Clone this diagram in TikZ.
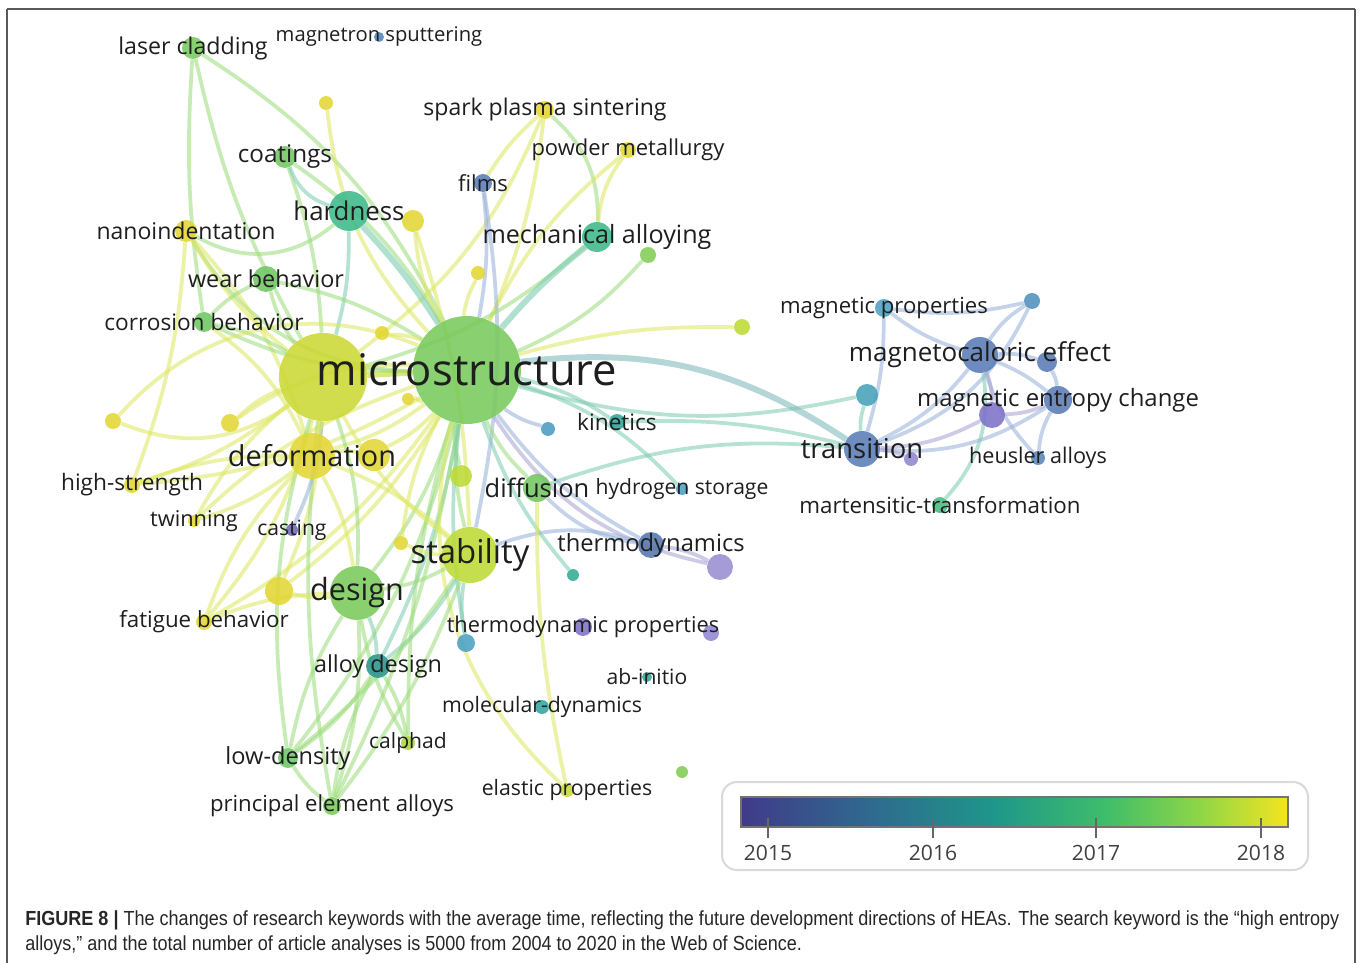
\documentclass[tikz,border=0pt]{standalone}
\usepackage{fontspec}
\newfontfamily\kwfont{Open Sans}
\newfontfamily\capfont[FakeStretch=0.885]{Liberation Sans}
\usetikzlibrary{positioning}

% colours of the overlay (viridis-like)
\definecolor{txt}{HTML}{1E1E1E}
\definecolor{yel}{HTML}{E3D634}
\definecolor{ygr}{HTML}{BCDA36}
\definecolor{grn}{HTML}{78C95C}
\definecolor{tgr}{HTML}{3DB88A}
\definecolor{teal}{HTML}{2FA59A}
\definecolor{tblu}{HTML}{4AA0C2}
\definecolor{blu}{HTML}{5A7BB6}
\definecolor{pur}{HTML}{7D71C6}
\definecolor{eg}{HTML}{9EDC7E}
\definecolor{ey}{HTML}{DDE764}
\definecolor{et}{HTML}{80CDB2}
\definecolor{eb}{HTML}{9BB3DA}
\definecolor{ep}{HTML}{AAA5D4}
\definecolor{etb}{HTML}{86BDBD}
\definecolor{vir0}{HTML}{403B8A}
\definecolor{vir1}{HTML}{2F6A8E}
\definecolor{vir2}{HTML}{1F968A}
\definecolor{vir3}{HTML}{3DBC6B}
\definecolor{vir4}{HTML}{8FD646}
\definecolor{vir5}{HTML}{F5E420}
\pgfdeclarehorizontalshading{viridis}{100bp}{color(0bp)=(vir0); color(25bp)=(vir0);
  color(37bp)=(vir1); color(48bp)=(vir2); color(58bp)=(vir3); color(67bp)=(vir4);
  color(75bp)=(vir5); color(100bp)=(vir5)}
\pgfdeclarelayer{bg}
\pgfsetlayers{bg,main}

\begin{document}
\begin{tikzpicture}[x=0.02cm,y=-0.02cm,
   dot/.style={circle,inner sep=0pt,minimum size=#1*0.04cm,fill opacity=0.88},
   lbl/.style={font=\kwfont\fontsize{#1}{#1}\selectfont,text=txt,inner sep=0pt,text opacity=1},
   link/.style={draw=#1,line width=0.075cm,draw opacity=0.58},
   thick link/.style={draw=#1,line width=0.12cm,draw opacity=0.62},
   yrlbl/.style={font=\kwfont\fontsize{12}{12}\selectfont,text=black!75},
   caption/.style={font=\capfont\fontsize{11.6}{13}\selectfont,text=black!85,anchor=west,inner sep=0pt}]

\useasboundingbox (0,0) rectangle (1360,963);
\draw[black!65,line width=0.035cm] (7,9) -- (7,963) (1355,9) -- (1355,963) (7,9) -- (1355,9);

% items without a printed label
\node[dot=44,fill=ygr!60!yel] (hea) at (323,377) {};
\node[dot=7,fill=yel]  (ydotA) at (326,103) {};
\node[dot=11,fill=yel] (ydotB) at (413,221) {};
\node[dot=7,fill=yel]  (ydotC) at (478,273) {};
\node[dot=7,fill=yel]  (ydotD) at (382,333) {};
\node[dot=6,fill=yel]  (ydotE) at (408,399) {};
\node[dot=8,fill=yel]  (ydotF) at (113,421) {};
\node[dot=9,fill=yel]  (ydotG) at (230,423) {};
\node[dot=16,fill=yel] (ydotH) at (374,455) {};
\node[dot=7,fill=yel]  (ydotI) at (401,543) {};
\node[dot=14,fill=yel] (ydotJ) at (279,591) {};
\node[dot=11,fill=ygr] (ygdot) at (461,476) {};
\node[dot=8,fill=ygr]  (ygdotB) at (742,327) {};
\node[dot=8,fill=grn!85!ygr] (gdotA) at (648,255) {};
\node[dot=6,fill=grn!85!ygr] (gdotB) at (682,772) {};
\node[dot=7,fill=tblu!85!blu] (bdotA) at (548,429) {};
\node[dot=6,fill=teal!70!tgr] (tdotA) at (573,575) {};
\node[dot=9,fill=tblu] (tdotB) at (466,643) {};
\node[dot=11,fill=tblu!80!teal] (tdotC) at (867,395) {};
\node[dot=13,fill=pur!80!white] (pdotA) at (720,567) {};
\node[dot=8,fill=pur!85!white] (pdotB) at (711,633) {};
\node[dot=8,fill=tblu!60!blu] (bdotB) at (1032,301) {};
\node[dot=10,fill=blu] (bdotC) at (1047,362) {};
\node[dot=13,fill=pur] (pdotC) at (992,415) {};
\node[dot=7,fill=pur!85!white] (pdotD) at (911,459) {};

% keywords
\node[dot=11,fill=grn,label={[lbl=13.2]center:laser cladding}] (laser) at (193,48) {};
\node[dot=5,fill=blu!80!tblu,label={[lbl=11.5]center:magnetron sputtering}] (sput) at (379,37) {};
\node[dot=9,fill=yel,label={[lbl=13.1]center:spark plasma sintering}] (spark) at (545,110) {};
\node[dot=8,fill=yel,label={[lbl=12.5]center:powder metallurgy}] (powder) at (628,150) {};
\node[dot=11,fill=grn!90!tgr,label={[lbl=13.8]center:coatings}] (coat) at (285,157) {};
\node[dot=9,fill=blu,label={[lbl=12.6]center:films}] (films) at (483,183) {};
\node[dot=20,fill=tgr,label={[lbl=14.7]center:hardness}] (hard) at (349,211) {};
\node[dot=11,fill=yel,label={[lbl=13.1]center:nanoindentation}] (nano) at (186,231) {};
\node[dot=15,fill=tgr,label={[lbl=14.3]center:mechanical alloying}] (mech) at (597,237) {};
\node[dot=13,fill=grn!85!tgr,label={[lbl=13.3]center:wear behavior}] (wear) at (266,279) {};
\node[dot=10,fill=grn!85!tgr,label={[lbl=12.9]center:corrosion behavior}] (corr) at (204,322) {};
\node[dot=54,fill=grn,label={[lbl=24.8]center:microstructure}] (micro) at (467,370) {};
\node[dot=8,fill=teal,label={[lbl=12.9]center:kinetics}] (kin) at (617,422) {};
\node[dot=23,fill=yel,label={[lbl=16.4]center:deformation}] (deform) at (312,456) {};
\node[dot=8,fill=yel,label={[lbl=12.9]center:high-strength}] (highs) at (132,485) {};
\node[dot=14,fill=grn!90!tgr,label={[lbl=14.5]center:diffusion}] (diff) at (537,488) {};
\node[dot=6,fill=tblu,label={[lbl=12]center:hydrogen storage}] (hydro) at (682,489) {};
\node[dot=6,fill=yel,label={[lbl=12.4]center:twinning}] (twin) at (194,521) {};
\node[dot=6,fill=pur!90!black,label={[lbl=12]center:casting}] (cast) at (292,530) {};
\node[dot=28,fill=ygr,label={[lbl=18.7]center:stability}] (stab) at (470,555) {};
\node[dot=13,fill=blu!95!black,label={[lbl=13.5]center:thermodynamics}] (thermo) at (651,545) {};
\node[dot=27,fill=grn!95!ygr,label={[lbl=17.4]center:design}] (design) at (357,593) {};
\node[dot=8,fill=yel,label={[lbl=12.7]center:fatigue behavior}] (fatig) at (204,622) {};
\node[dot=9,fill=pur,label={[lbl=12.4]center:thermodynamic properties}] (tprop) at (583,627) {};
\node[dot=12,fill=teal!90!black,label={[lbl=13.3]center:alloy design}] (adesign) at (378,666) {};
\node[dot=5,fill=teal,label={[lbl=12]center:ab-initio}] (abin) at (647,677) {};
\node[dot=7,fill=teal!80!tblu,label={[lbl=12.1]center:molecular-dynamics}] (md) at (542,707) {};
\node[dot=7,fill=ygr!70!grn,label={[lbl=12]center:calphad}] (calph) at (408,743) {};
\node[dot=10,fill=grn!80!tgr,label={[lbl=13.4]center:low-density}] (lowd) at (288,758) {};
\node[dot=7,fill=ygr!80!yel,label={[lbl=12.1]center:elastic properties}] (elast) at (567,790) {};
\node[dot=9,fill=grn,label={[lbl=12.6]center:principal element alloys}] (pea) at (332,806) {};
\node[dot=9,fill=tblu,label={[lbl=12.6]center:magnetic properties}] (magp) at (884,308) {};
\node[dot=18,fill=blu,label={[lbl=14.8]center:magnetocaloric effect}] (mce) at (980,355) {};
\node[dot=14,fill=blu,label={[lbl=13.6]center:magnetic entropy change}] (mec) at (1058,400) {};
\node[dot=18,fill=blu!95!tblu,label={[lbl=15.6]center:transition}] (trans) at (862,449) {};
\node[dot=7,fill=blu!70!tblu,label={[lbl=12.3]center:heusler alloys}] (heus) at (1038,458) {};
\node[dot=8,fill=tgr!80!grn,label={[lbl=12.7]center:martensitic-transformation}] (mart) at (940,505) {};

% co-occurrence links
\begin{pgfonlayer}{bg}
\foreach \a/\b/\c/\t in {
   laser/hea/eg/-8, laser/micro/eg/15, laser/corr/eg/-6,
   ydotA/micro/ey/-18, spark/hea/ey/15, spark/films/ey/-8, spark/mech/eg/25,
   spark/micro/ey/8, powder/mech/ey/-15, powder/micro/ey/-12,
   coat/hea/eg/8, coat/hard/et/-25, coat/micro/eg/12,
   films/micro/eb/8, films/stab/eb/10, hard/hea/et/8, nano/hard/eg/-35, nano/micro/eg/-28,
   nano/hea/ey/-10, nano/deform/ey/12, nano/highs/ey/8,
   mech/hea/eg/12, gdotA/micro/eg/12, ydotB/micro/ey/-10, ydotB/stab/ey/8, ydotC/micro/ey/-10,
   wear/micro/eg/10, wear/hea/eg/-10, wear/corr/eg/-10, corr/micro/eg/-12,
   corr/hea/eg/10, corr/deform/ey/14, ydotD/micro/ey/10,
   micro/tdotC/et/-14, kin/trans/et/8, diff/trans/et/12, micro/kin/et/10,
   bdotA/micro/eb/10, micro/hydro/et/14, pdotA/micro/ep/22, micro/thermo/eb/-12,
   ygdotB/micro/ey/-8,
   micro/deform/ey/10, micro/stab/eg/-10, micro/design/eg/10, micro/diff/eg/-10,
   micro/ydotE/ey/10, micro/ygdot/eg/-10, micro/adesign/et/8, micro/lowd/eg/12,
   micro/pea/eg/8, micro/calph/eg/-8, micro/tdotB/et/-8, micro/elast/ey/-30,
   micro/ydotH/ey/10, micro/twin/ey/-12, micro/highs/ey/12, micro/fatig/ey/12,
   micro/ydotF/ey/-35, micro/ydotG/ey/-18, micro/ydotJ/ey/10, micro/ydotI/ey/-10,
   micro/tdotA/et/-10,
   hea/stab/ey/-12, hea/design/eg/10, hea/ydotF/ey/28, hea/ydotG/ey/-10,
   hea/highs/ey/10, hea/twin/ey/-10, hea/fatig/ey/12, hea/ydotJ/ey/10,
   hea/lowd/eg/-12, hea/pea/eg/-8, hea/cast/eb/10,
   design/stab/eg/-10, design/adesign/et/10, design/lowd/eg/-10, design/pea/eg/10,
   design/calph/eg/-10, design/ydotJ/ey/10, design/fatig/ey/-10,
   stab/adesign/et/10, stab/tdotB/et/-10, stab/pea/eg/8, stab/lowd/eg/8,
   stab/thermo/eb/18, stab/deform/ey/-10, stab/ydotI/ey/10,
   deform/twin/ey/10, deform/highs/ey/-10, deform/ydotH/ey/10, deform/fatig/ey/-12,
   deform/design/ey/10, diff/elast/ey/-6, diff/thermo/eb/-18, thermo/pdotA/ep/10,
   adesign/lowd/eg/10, adesign/pea/eg/-10, adesign/calph/eg/10, lowd/pea/eg/-10,
   trans/mce/eb/-12, trans/mec/eb/-18, trans/magp/eb/-8, trans/bdotB/eb/-22,
   trans/pdotC/ep/-12, trans/tdotC/et/10, trans/pdotD/ep/10,
   mce/bdotB/eb/12, mce/magp/eb/10, mce/mec/eb/8, mce/bdotC/eb/10,
   mce/heus/eb/-12, mce/pdotC/ep/10, mce/mart/et/25,
   bdotC/mec/eb/12, mec/pdotC/ep/10, mec/heus/eb/-12, magp/bdotB/eb/-10}
   \draw[link=\c] (\a) to[bend left=\t] (\b);
\foreach \a/\b/\c/\t in {hard/micro/et/5, mech/micro/et/-5, hea/deform/ey/5,
   micro/trans/etb/20, hea/micro/ygr/0}
   \draw[thick link=\c] (\a) to[bend left=\t] (\b);
\end{pgfonlayer}

% colour scale
\draw[black!15,line width=0.04cm,rounded corners=0.3cm] (722,782) rectangle (1308,870);
\shade[shading=viridis] (741,797) rectangle (1288,827);
\draw[black!55,line width=0.03cm] (741,797) rectangle (1288,827);
\foreach \x/\yr in {768/2015,933/2016,1096/2017,1261/2018}{
  \draw[black!60,line width=0.03cm] (\x,818) -- (\x,838);
  \node[yrlbl] (yr\yr) at (\x,853) {\yr};
}

% caption
\node[caption] (cap1) at (25,920) {\textbf{FIGURE 8 |} The changes of research keywords with the average time, reflecting the future development directions of HEAs. The search keyword is the “high entropy};
\node[caption] (cap2) at (25,945) {alloys,” and the total number of article analyses is 5000 from 2004 to 2020 in the Web of Science.};
\end{tikzpicture}
\end{document}
